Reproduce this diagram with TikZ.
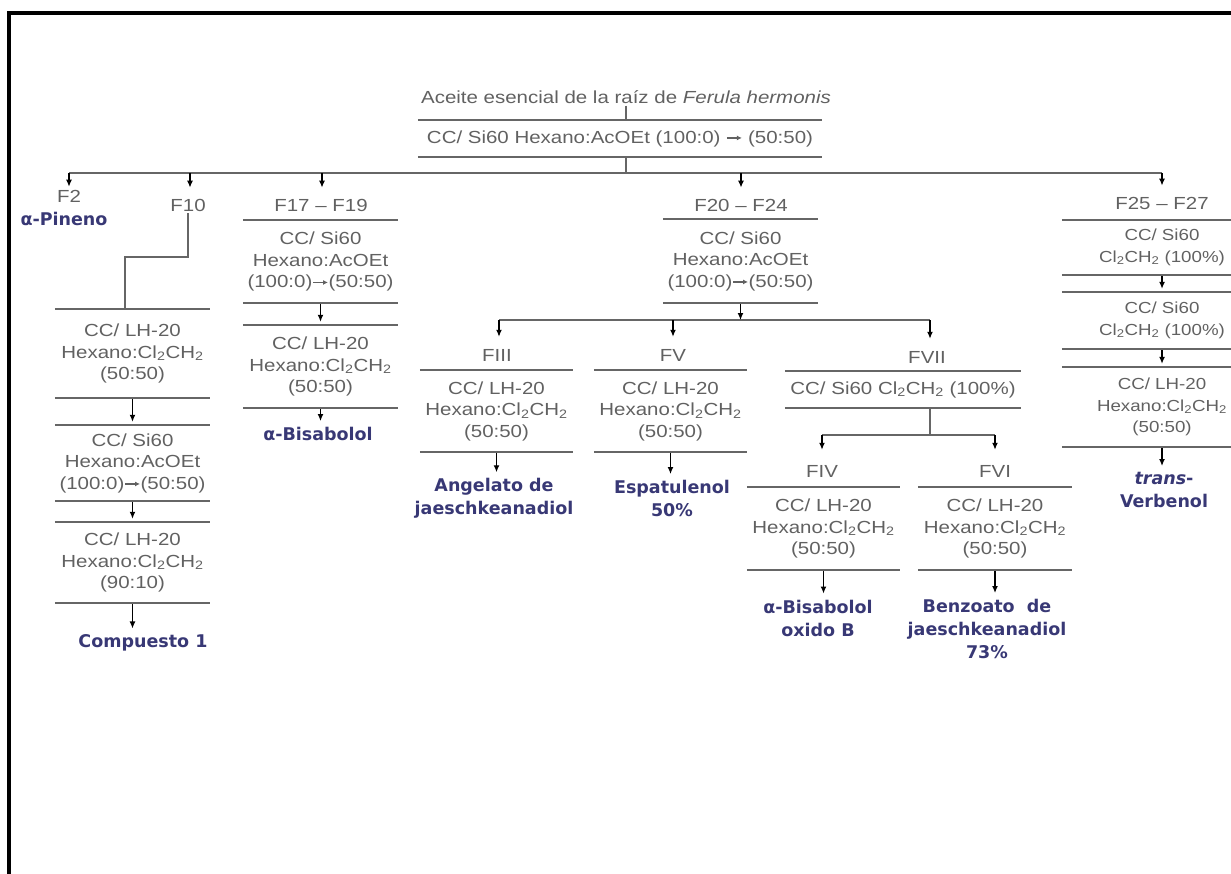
\documentclass[tikz,border=0pt]{standalone}
\usepackage{fontspec}
\setmainfont{Liberation Sans}[FakeStretch=1.17]
\newfontfamily\dejavu{DejaVu Sans}
\usetikzlibrary{arrows.meta}

\definecolor{gristexto}{rgb}{0.38,0.38,0.38}
\definecolor{grislinea}{rgb}{0.40,0.40,0.40}
\definecolor{azulres}{rgb}{0.22,0.22,0.46}

\newcommand\flechita{\tikz[baseline=-0.55ex]\draw[-{Latex[length=5pt,width=5pt]},line width=1.2pt,draw=gristexto] (0pt,0pt) -- (15pt,0pt);}

\begin{document}
\begin{tikzpicture}[x=1pt,y=-1pt,>={Latex[length=7pt,width=6pt]},
  texto/.style={text=gristexto,font=\fontsize{17.5}{21.5}\selectfont,align=center,inner sep=2pt},
  caja/.style={texto,inner sep=0pt,minimum width=155pt},
  estrecha/.style={font=\fontsize{16}{21.5}\selectfont},
  res/.style={text=azulres,font=\dejavu\bfseries\fontsize{17.5}{23}\selectfont,align=center,inner sep=1pt},
  regla/.style={draw=grislinea,line width=1.6pt},
  bus/.style={draw=grislinea,line width=2.4pt},
  flecha/.style={->,draw=black,line width=1.3pt,shorten >=3pt}]
\def\cl{Cl\textsubscript{2}CH\textsubscript{2}}
\useasboundingbox (0,0) rectangle (1231,873);

% marco
\draw[line width=3.5pt] (1233,13) -- (9,13) -- (9,875);

% aceite
\node[texto] (aceite) at (626,97) {Aceite esencial de la raíz de \textit{Ferula hermonis}};
\node[caja,minimum width=404pt,minimum height=37pt] (T0) at (620,138.5)
  {CC/ Si60 Hexano:AcOEt (100:0) \flechita\ (50:50)};
\draw[regla] (aceite.south) -- (aceite.south |- T0.north);

% bus principal
\coordinate (bF2)  at (69,173);
\coordinate (bF10) at (190,173);
\coordinate (bF17) at (322,173);
\coordinate (bF20) at (741,173);
\coordinate (bF25) at (1162,173);
\draw[regla] (aceite.south |- T0.south) -- (aceite.south |- bF2);
\draw[bus] (bF2) -- (bF25);

\node[texto] (F2)  at (69,196) {F2};
\node[texto] (F10) at (188,205) {F10};
\node[texto] (F17) at (321,205) {F17 -- F19};
\node[texto] (F20) at (741,205) {F20 -- F24};
\node[texto] (F25) at (1162,203) {F25 -- F27};
\draw[flecha,shorten >=1pt] (bF2) -- (bF2 |- F2.north);
\foreach \n in {F10,F17,F20,F25}
  \draw[flecha,shorten >=9pt] (b\n) -- (b\n |- \n.north);

% F2
\node[res] (pineno) at (64,219) {α-Pineno};

% F10
\node[caja,minimum height=89pt] (L1) at (132.5,353.5)
  {CC/ LH-20\\Hexano:\cl\\(50:50)};
\node[caja,minimum height=76pt] (L2) at (132.5,463)
  {CC/ Si60\\Hexano:AcOEt\\(100:0)\flechita(50:50)};
\node[caja,minimum height=81pt] (L3) at (132.5,562.5)
  {CC/ LH-20\\Hexano:\cl\\(90:10)};
\node[res] (comp1) at (143,643) {Compuesto 1};
\coordinate (codo) at (125,257);
\draw[regla] (F10.south) |- (codo) -- (codo |- L1.north);
\draw[flecha] (L1.south) -- (L2.north);
\draw[flecha] (L2.south) -- (L3.north);
\draw[flecha,shorten >=5pt] (L3.south) -- (L3.south |- comp1.north);

% F17 - F19
\node[caja,minimum height=83pt] (M1) at (320.5,261.5)
  {CC/ Si60\\Hexano:AcOEt\\(100:0)\flechita(50:50)};
\node[caja,minimum height=83pt] (M2) at (320.5,366.5)
  {CC/ LH-20\\Hexano:\cl\\(50:50)};
\node[res] (bisab) at (318,434) {α-Bisabolol};
\draw[flecha] (M1.south) -- (M2.north);
\draw[flecha,shorten >=5pt] (M2.south) -- (M2.south |- bisab.north);

% F20 - F24
\node[caja,minimum height=84pt] (N1) at (740.5,261)
  {CC/ Si60\\Hexano:AcOEt\\(100:0)\flechita(50:50)};
\coordinate (bFIII) at (499,320);
\coordinate (bFV)   at (673,320);
\coordinate (bFVII) at (930,320);
\draw[regla] (bFIII) -- (bFVII);
\draw[flecha,shorten >=0pt] (N1.south) -- (N1.south |- bFIII);

\node[texto] (FIII) at (497,355) {FIII};
\node[texto] (FV)   at (673,355) {FV};
\node[texto] (FVII) at (927,357) {FVII};
\foreach \n in {FIII,FV,FVII}
  \draw[flecha,shorten >=10pt] (b\n) -- (b\n |- \n.north);

\node[caja,minimum width=153pt,minimum height=82pt] (P3) at (496.5,411)
  {CC/ LH-20\\Hexano:\cl\\(50:50)};
\node[caja,minimum width=153pt,minimum height=82pt] (P5) at (670.5,411)
  {CC/ LH-20\\Hexano:\cl\\(50:50)};
\node[caja,minimum width=236pt,minimum height=37pt] (P7) at (903,389.5)
  {CC/ Si60 \cl\ (100\%)};
\node[res] (angel) at (494,498.5) {Angelato de\\jaeschkeanadiol};
\node[res] (espat) at (672,498.5) {Espatulenol\\50\%};
\draw[flecha,shorten >=5pt] (P3.south) -- (P3.south |- angel.north);
\draw[flecha,shorten >=5pt] (P5.south) -- (P5.south |- espat.north);

% FVII
\coordinate (bV)   at (930,435);
\coordinate (bFIV) at (822,435);
\coordinate (bFVI) at (995,435);
\draw[regla] (bV |- P7.south) -- (bV);
\draw[regla] (bFIV) -- (bFVI);
\node[texto] (FIV) at (822,471) {FIV};
\node[texto] (FVI) at (995,471) {FVI};
\foreach \n in {FIV,FVI}
  \draw[flecha,shorten >=13pt] (b\n) -- (b\n |- \n.north);
\node[caja,minimum width=153pt,minimum height=83pt] (Q4) at (823.5,528.5)
  {CC/ LH-20\\Hexano:\cl\\(50:50)};
\node[caja,minimum width=154pt,minimum height=83pt] (Q6) at (995,528.5)
  {CC/ LH-20\\Hexano:\cl\\(50:50)};
\node[res] (oxido) at (818,618) {α-Bisabolol\\oxido B};
\node[res] (benzo) at (987,629) {Benzoato\ \ de\\jaeschkeanadiol\\73\%};
\draw[flecha,shorten >=5pt] (Q4.south) -- (Q4.south |- oxido.north);
\draw[flecha,shorten >=5pt] (Q6.south) -- (Q6.south |- benzo.north);

% F25 - F27 (cortada por el borde)
\node[caja,estrecha,minimum width=200pt,minimum height=55pt] (R1) at (1162,247.5)
  {CC/ Si60\\\cl\ (100\%)};
\node[caja,estrecha,minimum width=200pt,minimum height=57pt] (R2) at (1162,320.5)
  {CC/ Si60\\\cl\ (100\%)};
\node[caja,estrecha,minimum width=200pt,minimum height=80pt] (R3) at (1162,407)
  {CC/ LH-20\\Hexano:\cl\\(50:50)};
\node[res] (verben) at (1164,490) {\textit{trans}-\\Verbenol};
\draw[flecha] (R1.south) -- (R2.north);
\draw[flecha] (R2.south) -- (R3.north);
\draw[flecha,shorten >=5pt] (R3.south) -- (R3.south |- verben.north);

% reglas de las cajas
\foreach \n in {T0,L1,L2,L3,M1,M2,N1,P3,P5,P7,Q4,Q6,R1,R2,R3}
  \draw[regla] (\n.north west) -- (\n.north east) (\n.south west) -- (\n.south east);

\end{tikzpicture}
\end{document}
